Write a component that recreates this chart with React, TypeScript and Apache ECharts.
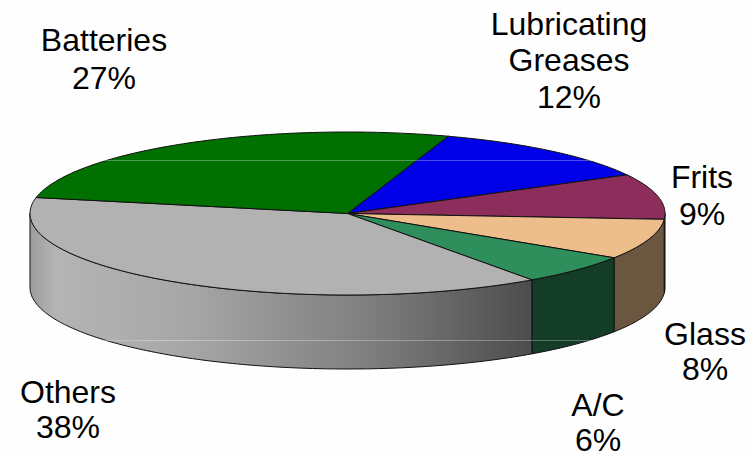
import React, { useEffect, useRef } from "react";
import * as echarts from "echarts";

const categories = ["Lubricating\nGreases", "Frits", "Glass", "A/C", "Others", "Batteries"];
const shares = [12, 9, 8, 6, 38, 27];
const topColors = ["#0000e8", "#8c2d5c", "#edbd8c", "#2e8e5c", "#b2b2b2", "#007000"];
const wallColors = ["#00007a", "#561a44", "#6b5640", "#143d28", "#808080", "#003a00"];
const labelCentersX = [569, 702, 705, 598, 68, 104];
const labelCentersY = [
  [24, 60, 97],
  [177, 214],
  [334, 369],
  [405, 440],
  [392, 427],
  [40, 78],
];
const WIDTH = 754;
const HEIGHT = 459;
const CX = 347.5;
const CY = 213.5;
const RX = 317.5;
const RY = 81.5;
const DEPTH = 74;
const START = 71.5;

const rad = (d: number) => (d * Math.PI) / 180;
const px = (d: number) => CX + RX * Math.cos(rad(d));
const py = (d: number) => CY - RY * Math.sin(rad(d));

function arc(from: number, to: number, offset = 0): number[][] {
  const pts: number[][] = [];
  const n = Math.max(2, Math.ceil(Math.abs(to - from)));
  for (let i = 0; i <= n; i++) {
    const d = from + ((to - from) * i) / n;
    pts.push([px(d), py(d) + offset]);
  }
  return pts;
}

const total = shares.reduce((a, b) => a + b, 0);

function renderItem(_params: any, api: any) {
  const idx = api.value(0);
  const priorShare = shares.slice(0, idx).reduce((a, b) => a + b, 0);
  const a0 = START - (priorShare / total) * 360;
  const a1 = a0 - (api.value(1) / total) * 360;
  const children: any[] = [];
  const w0 = Math.min(a0, 0);
  const w1 = Math.max(a1, -180);
  if (w0 > w1) {
    const top = arc(w0, w1);
    const bottom = arc(w1, w0, DEPTH);
    const isOthers = categories[idx] === "Others";
    children.push({
      type: "polygon",
      shape: { points: top.concat(bottom) },
      style: {
        fill: isOthers
          ? new echarts.graphic.LinearGradient(0, 0, 1, 0, [
              { offset: 0, color: "#9c9c9c" },
              { offset: 0.05, color: "#b4b4b4" },
              { offset: 0.3, color: "#a8a8a8" },
              { offset: 0.68, color: "#7e7e7e" },
              { offset: 1, color: "#4c4c4c" },
            ])
          : wallColors[idx],
        stroke: "#101010",
        lineWidth: 1,
      },
    });
  }
  children.push({
    type: "polygon",
    shape: { points: [[CX, CY], ...arc(a0, a1)] },
    style: { fill: topColors[idx], stroke: "#101010", lineWidth: 1 },
  });
  return { type: "group", children };
}

export default function App() {
  const ref = useRef<HTMLDivElement>(null);
  useEffect(() => {
    document.body.style.margin = "0";
    const chart = echarts.init(ref.current!, null, { renderer: "svg" });
    const labelLines = categories.flatMap((c, i) =>
      [...c.split("\n"), `${shares[i]}%`].map((text, j) => ({
        type: "text",
        z: 11,
        x: labelCentersX[i],
        y: labelCentersY[i][j],
        style: {
          text,
          fill: "#000000",
          font: '32px "Liberation Sans", Arial, sans-serif',
          lineHeight: 24,
          align: "center",
          verticalAlign: "middle",
        },
      }))
    );
    chart.setOption({
      animation: false,
      backgroundColor: "#fefefe",
      tooltip: { show: false },
      series: [
        {
          type: "custom",
          coordinateSystem: "none",
          renderItem,
          silent: true,
          data: shares.map((v, i) => [i, v]),
        },
      ],
      graphic: [
        ...[160.5, 340.5].map((y) => ({
          type: "line",
          z: 10,
          shape: { x1: 0, y1: y, x2: WIDTH, y2: y },
          style: { stroke: "rgba(255,255,255,0.3)", lineWidth: 1 },
        })),
        ...labelLines,
      ],
    });
    return () => chart.dispose();
  }, []);
  return <div ref={ref} style={{ width: WIDTH, height: HEIGHT }} />;
}
